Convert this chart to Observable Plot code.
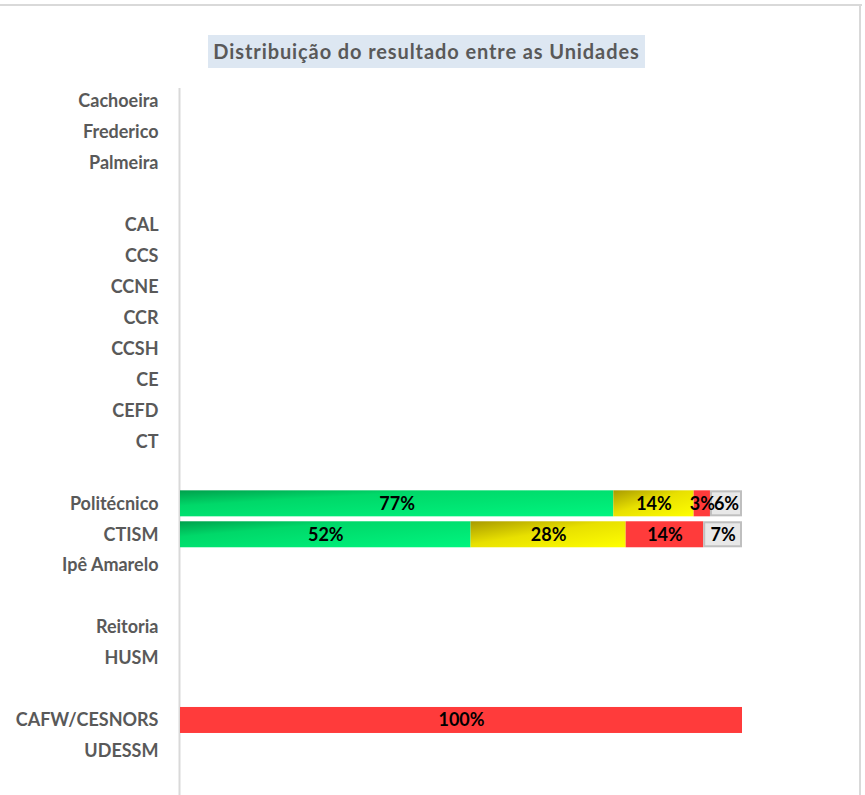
<!DOCTYPE html>
<html>
<head>
<meta charset="utf-8">
<script src="https://cdn.jsdelivr.net/npm/d3@7"></script>
<script src="https://cdn.jsdelivr.net/npm/@observablehq/plot@0.6"></script>
<style>
  html, body { margin: 0; padding: 0; background: #fff; }
  #page { position: relative; width: 865px; height: 795px; overflow: hidden; font-family: Lato, "Open Sans", sans-serif; }
  #topline { position: absolute; left: 0; top: 4px; width: 862px; height: 2px; background: #d9d9d9; }
  #rightline { position: absolute; left: 859px; top: 4px; width: 2px; height: 791px; background: #d9d9d9; }
  #title { position: absolute; left: 208px; top: 35px; width: 437px; height: 33px; background: #dde7f2;
           color: #595959; font-weight: bold; font-size: 20px; letter-spacing: 0.9px; line-height: 33px; text-align: center; white-space: nowrap; }
  #chart { position: absolute; left: 0; top: 80px; }
</style>
</head>
<body>
<div id="page">
  <div id="topline"></div>
  <div id="rightline"></div>
  <div id="title">Distribuição do resultado entre as Unidades</div>
  <div id="chart"></div>
</div>
<script>
// Categories (gaps are blank rows in the original chart)
const units = ["Cachoeira", "Frederico", "Palmeira", "_gap1",
  "CAL", "CCS", "CCNE", "CCR", "CCSH", "CE", "CEFD", "CT", "_gap2",
  "Politécnico", "CTISM", "Ipê Amarelo", "_gap3",
  "Reitoria", "HUSM", "_gap4",
  "CAFW/CESNORS", "UDESSM"];
const series = ["Verde", "Amarelo", "Vermelho", "Cinza"];
// Percent shares per unit (only units with data)
const politecnico = [77.1, 14.3, 2.9, 5.7];
const ctism = [51.7, 27.6, 13.8, 6.9];
const cafwCesnors = [0, 0, 100, 0];

const valuesByUnit = { "Politécnico": politecnico, "CTISM": ctism, "CAFW/CESNORS": cafwCesnors };

const rows = [];
for (const [unit, vals] of Object.entries(valuesByUnit)) {
  let acc = 0;
  vals.forEach((v, i) => {
    if (v > 0) rows.push({ unit, series: series[i], value: v, x1: acc, x2: acc + v });
    acc += v;
  });
}

const height = 715;
const step = 30.95;
const marginTop = 5.5;
const marginBottom = height - (marginTop + units.length * step);

const plot = Plot.plot({
  width: 865,
  height,
  marginLeft: 180,
  marginRight: 123,
  marginTop,
  marginBottom,
  style: { fontFamily: "Lato, 'Open Sans', sans-serif", background: "transparent" },
  x: { domain: [0, 100], axis: null },
  y: { domain: units, paddingInner: 0.16, paddingOuter: 0.08, round: false, label: null },
  color: { domain: series, range: ["url(#gGreen)", "url(#gYellow)", "#ff3b3b", "#e8e8e8"] },
  marks: [
    Plot.ruleX([0], { stroke: "#d9d9d9", strokeWidth: 2, dx: -1, insetTop: 2.5, insetBottom: -marginBottom }),
    Plot.axisY({ tickSize: 0, tickPadding: 22, fontSize: 18, fontWeight: "bold", fill: "#595959",
                 tickFormat: d => d.startsWith("_gap") ? "" : d }),
    Plot.barX(rows.filter(d => d.series !== "Cinza"), { x1: "x1", x2: "x2", y: "unit", fill: "series" }),
    Plot.barX(rows.filter(d => d.series === "Cinza"), { x1: "x1", x2: "x2", y: "unit", fill: "series",
                 stroke: "#bfbfbf", strokeWidth: 2, inset: 1 }),
    Plot.text(rows, { x: d => (d.x1 + d.x2) / 2, y: "unit", text: d => Math.round(d.value) + "%",
                 fill: "black", fontSize: 18, fontWeight: "bold" })
  ]
});

const defs = d3.select(plot).insert("defs", ":first-child");
const g1 = defs.append("linearGradient").attr("id", "gGreen").attr("x1", 0).attr("y1", 0).attr("x2", 1).attr("y2", 1);
g1.append("stop").attr("offset", 0).attr("stop-color", "#00a04c");
g1.append("stop").attr("offset", 0.3).attr("stop-color", "#00d869");
g1.append("stop").attr("offset", 1).attr("stop-color", "#00f57f");
const g2 = defs.append("linearGradient").attr("id", "gYellow").attr("x1", 0).attr("y1", 0).attr("x2", 1).attr("y2", 1);
g2.append("stop").attr("offset", 0).attr("stop-color", "#a89a00");
g2.append("stop").attr("offset", 0.45).attr("stop-color", "#e8e000");
g2.append("stop").attr("offset", 1).attr("stop-color", "#ffff00");

document.getElementById("chart").appendChild(plot);
</script>
</body>
</html>
